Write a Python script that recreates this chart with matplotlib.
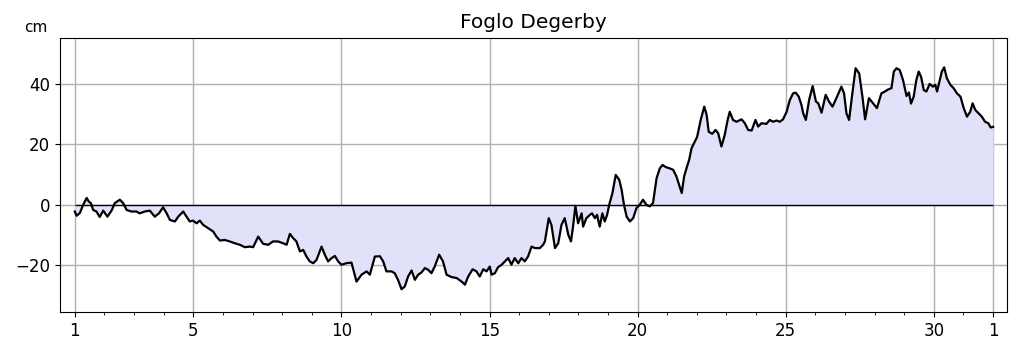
"""Sea level chart for Foglo Degerby, one month of readings."""

import matplotlib

matplotlib.use("Agg")

import matplotlib.pyplot as plt
from matplotlib.ticker import FixedLocator, MultipleLocator

STATION = "Foglo Degerby"
UNIT = "cm"

# day of month (fractional) and water level in cm
days = [
    1.00, 1.06, 1.17, 1.28, 1.40, 1.47, 1.54, 1.62, 1.73, 1.84, 1.96, 2.10,
    2.24, 2.35, 2.52, 2.63, 2.75, 2.91, 3.08, 3.19, 3.36, 3.53, 3.70, 3.84,
    3.98, 4.10, 4.21, 4.38, 4.49, 4.66, 4.77, 4.88, 4.99, 5.11, 5.22, 5.33,
    5.50, 5.67, 5.78, 5.90, 6.06, 6.23, 6.40, 6.57, 6.74, 6.91, 7.02, 7.19,
    7.36, 7.53, 7.69, 7.86, 8.03, 8.15, 8.26, 8.37, 8.48, 8.60, 8.71, 8.82,
    8.93, 9.05, 9.16, 9.33, 9.44, 9.55, 9.67, 9.78, 9.89, 10.00, 10.17, 10.34,
    10.51, 10.68, 10.85, 10.96, 11.13, 11.30, 11.41, 11.52, 11.69, 11.80,
    11.91, 12.03, 12.14, 12.25, 12.37, 12.48, 12.59, 12.70, 12.82, 12.93,
    13.04, 13.15, 13.30, 13.43, 13.55, 13.72, 13.89, 14.06, 14.17, 14.28,
    14.43, 14.56, 14.67, 14.79, 14.90, 15.01, 15.07, 15.18, 15.29, 15.41,
    15.52, 15.63, 15.74, 15.85, 15.97, 16.08, 16.19, 16.30, 16.42, 16.53,
    16.70, 16.81, 16.87, 17.00, 17.09, 17.21, 17.32, 17.43, 17.54, 17.66,
    17.75, 17.82, 17.90, 17.99, 18.11, 18.16, 18.27, 18.39, 18.46, 18.56,
    18.63, 18.72, 18.81, 18.89, 18.97, 19.04, 19.15, 19.26, 19.38, 19.46,
    19.54, 19.63, 19.74, 19.85, 19.96, 20.07, 20.18, 20.30, 20.41, 20.52,
    20.64, 20.75, 20.84, 20.95, 21.08, 21.20, 21.31, 21.40, 21.49, 21.57,
    21.65, 21.74, 21.82, 21.93, 22.01, 22.13, 22.25, 22.33, 22.40, 22.52,
    22.63, 22.72, 22.83, 22.94, 23.04, 23.11, 23.22, 23.34, 23.51, 23.62,
    23.73, 23.85, 23.98, 24.07, 24.18, 24.35, 24.46, 24.57, 24.69, 24.80,
    24.91, 25.03, 25.14, 25.25, 25.34, 25.44, 25.53, 25.59, 25.68, 25.79,
    25.91, 26.02, 26.10, 26.21, 26.35, 26.46, 26.58, 26.71, 26.88, 26.97,
    27.05, 27.14, 27.25, 27.36, 27.48, 27.59, 27.68, 27.81, 27.95, 28.08,
    28.23, 28.35, 28.46, 28.57, 28.65, 28.74, 28.85, 28.96, 29.08, 29.16,
    29.23, 29.32, 29.41, 29.49, 29.57, 29.66, 29.75, 29.86, 29.97, 30.05,
    30.11, 30.20, 30.27, 30.35, 30.44, 30.56, 30.67, 30.78, 30.90, 31.01,
    31.12, 31.23, 31.31, 31.40, 31.51, 31.62, 31.73, 31.84, 31.92, 32.00,
]
level_cm = [
    -2.2, -3.6, -2.7, 0.0, 2.3, 1.1, 0.6, -1.7, -2.2, -4.0, -1.9, -3.9,
    -1.9, 0.6, 1.7, 0.6, -1.7, -2.2, -2.2, -2.8, -2.2, -1.9, -3.9, -2.8,
    -0.8, -2.8, -5.0, -5.5, -3.9, -2.2, -3.9, -5.5, -5.2, -6.1, -5.2, -6.6,
    -7.7, -8.8, -10.5, -11.8, -11.6, -12.1, -12.7, -13.2, -14.0, -13.8, -14.0, -10.5,
    -12.9, -13.2, -12.1, -12.1, -12.7, -13.2, -9.6, -11.0, -12.1, -15.4, -14.9, -17.1,
    -18.7, -19.3, -18.2, -13.8, -16.5, -18.7, -17.6, -16.9, -18.7, -19.8, -19.3, -19.1,
    -25.4, -23.1, -22.0, -23.1, -17.1, -17.0, -18.7, -22.0, -22.0, -22.6,
    -24.8, -27.9, -27.0, -23.7, -21.7, -24.8, -23.1, -22.4, -20.9, -21.5,
    -22.6, -20.4, -16.5, -18.7, -23.1, -23.9, -24.2, -25.4, -26.4, -23.7,
    -21.3, -22.0, -23.7, -21.3, -22.0, -20.4, -23.1, -22.6, -20.6, -19.8,
    -18.7, -17.6, -19.8, -17.6, -19.3, -17.6, -18.7, -17.1, -13.8, -14.3,
    -14.3, -13.2, -12.1, -4.4, -6.6, -14.3, -12.7, -6.6, -4.4, -9.9,
    -12.1, -7.2, -0.3, -6.1, -2.8, -7.2, -4.4, -3.3, -2.8, -4.4,
    -3.3, -7.2, -2.8, -5.5, -3.3, 0.0, 3.9, 9.9, 8.3, 5.0,
    0.0, -3.9, -5.5, -4.4, -1.1, 0.0, 1.7, 0.0, -0.5, 0.6,
    8.8, 12.1, 13.2, 12.5, 12.1, 11.6, 9.4, 6.6, 3.9, 9.4,
    12.1, 14.9, 18.7, 20.9, 22.5, 28.1, 32.5, 29.8, 24.2, 23.5,
    24.8, 23.7, 19.3, 23.1, 28.1, 30.8, 28.1, 27.5, 28.3, 27.0,
    24.8, 24.6, 28.1, 25.9, 27.0, 26.8, 28.1, 27.5, 27.9, 27.5,
    28.3, 30.8, 34.7, 36.9, 37.1, 35.8, 33.1, 30.3, 28.1, 34.7,
    39.3, 34.2, 33.6, 30.5, 36.4, 34.2, 32.5, 35.3, 39.1, 36.9,
    30.3, 28.1, 36.9, 45.2, 43.5, 35.8, 28.3, 35.3, 33.6, 32.0,
    36.9, 37.5, 38.2, 38.6, 44.1, 45.2, 44.6, 41.3, 36.0, 37.2,
    33.5, 35.8, 41.3, 44.1, 42.4, 38.0, 37.5, 40.0, 39.1, 39.7,
    37.5, 41.3, 44.1, 45.5, 41.9, 39.7, 38.6, 36.9, 35.8, 32.0,
    29.2, 30.8, 33.6, 31.4, 30.3, 29.2, 27.5, 27.0, 25.6, 25.8,
]

tick_days = [1, 5, 10, 15, 20, 25, 30, 32]
tick_labels = ["1", "5", "10", "15", "20", "25", "30", "1"]
y_ticks = [-20, 0, 20, 40]

fig = plt.figure(figsize=(10.19, 3.52), dpi=100)
ax = fig.add_axes([0.0589, 0.114, 0.9293, 0.778])

ax.fill_between(days, 0, level_cm, color="#e1e1fa", linewidth=0, zorder=1)
ax.hlines(0, days[0], days[-1], color="black", linewidth=1.0, zorder=3)
ax.plot(days, level_cm, color="black", linewidth=1.6, zorder=4)

ax.set_xlim(0.5, 32.47)
ax.set_ylim(-35.4, 55.2)
ax.xaxis.set_major_locator(FixedLocator(tick_days))
ax.set_xticklabels(tick_labels)
ax.xaxis.set_minor_locator(MultipleLocator(1))
ax.set_yticks(y_ticks)
ax.set_yticklabels(["\u221220", "0", "20", "40"])
ax.tick_params(axis="both", labelsize=12)
ax.grid(color="#b0b0b0", linewidth=1.0, zorder=0)
ax.set_axisbelow(True)

ax.set_title(STATION, fontsize=14.5, pad=7)
ax.text(-0.026, 1.022, UNIT, transform=ax.transAxes, ha="center",
        va="baseline", fontsize=11)

fig.savefig("out.png", dpi=100)
plt.close(fig)
